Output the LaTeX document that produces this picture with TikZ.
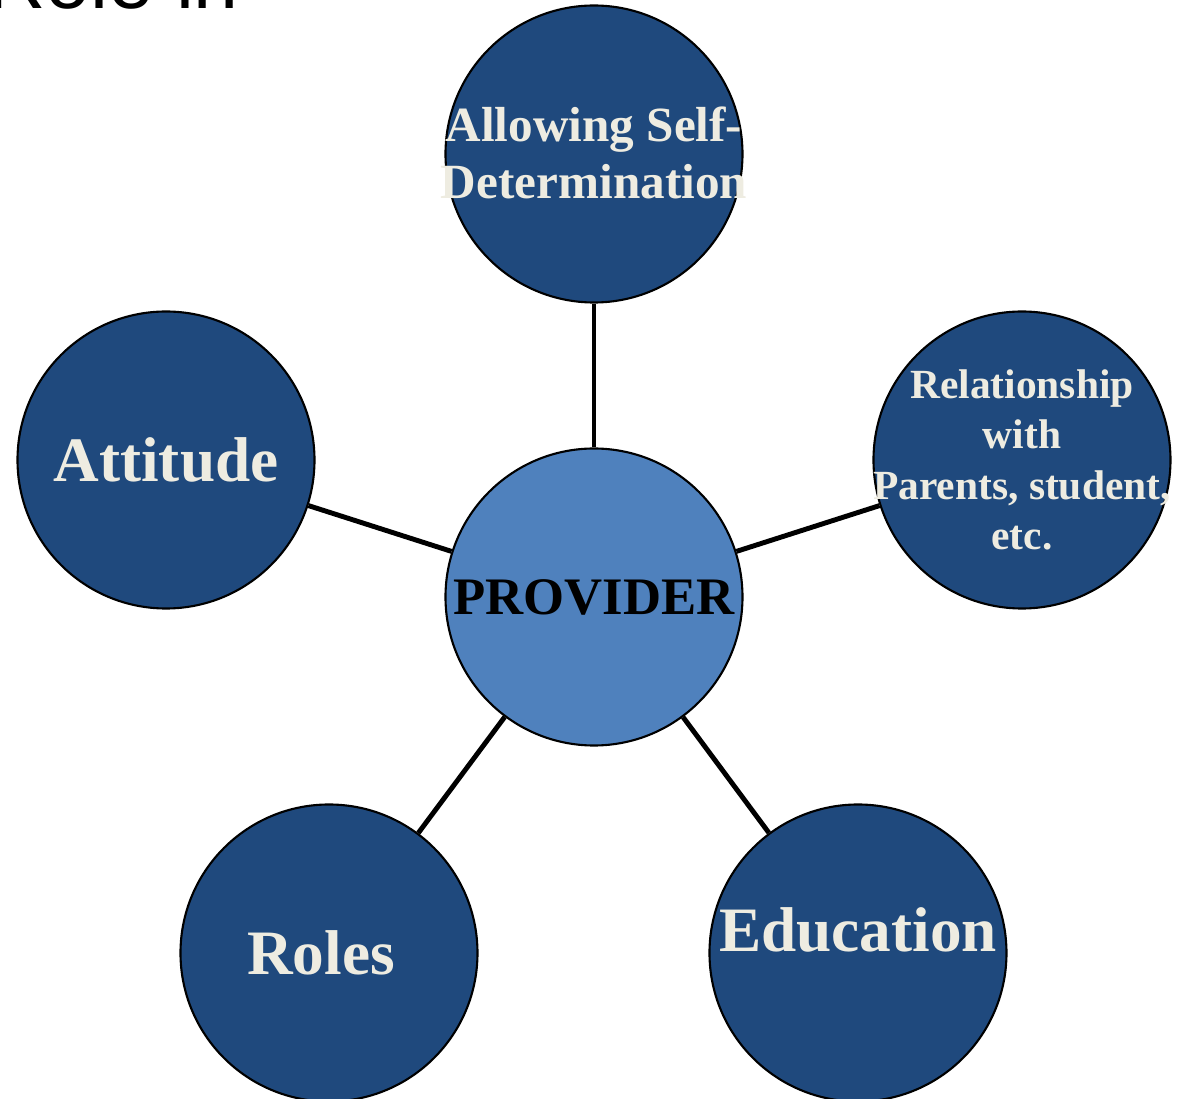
\documentclass[tikz,border=0pt]{standalone}
\usepackage{fontspec}
\setmainfont{Liberation Serif}
\setsansfont{Liberation Sans}
\definecolor{topicblue}{HTML}{1F497D}
\definecolor{hubblue}{HTML}{4F81BD}
\definecolor{paper}{HTML}{EEECE1}
\tikzset{
	topic/.style={circle, draw=black, line width=0.6pt, fill=topicblue, minimum size=2.97cm, inner sep=0pt},
	hub/.style={topic, fill=hubblue},
	word/.style={text=paper, font=\bfseries, align=center, inner sep=0pt},
	link/.style={line width=1.4pt}
}

\begin{document}
\begin{tikzpicture}
		%%%%% START %%%%%
		\useasboundingbox (0, 0) rectangle (11.88, 10.99);
		
		\node[anchor=base west, font=\sffamily\fontsize{23}{23}\selectfont] (title) at (-0.25, 10.90) {Role in};
		
		\node[hub, label={[word, text=black, font=\bfseries\fontsize{15}{15}\selectfont]center:PROVIDER}] (prov) at (5.94, 5.02) {};
		
		\node[topic, label={[word, yshift=0.01cm, font=\bfseries\fontsize{14}{16.2}\selectfont]center:Allowing Self-\\Determination}] (self) at (5.94, 9.45) {};
		\node[topic, label={[word, font=\bfseries\fontsize{18}{18}\selectfont]center:Attitude}] (att) at (1.66, 6.39) {};
		\node[topic, label={[word, font=\bfseries\fontsize{11.8}{14.3}\selectfont]center:Relationship\\with\\Parents, student,\\etc.}] (rel) at (10.22, 6.39) {};
		\node[topic, label={[word, xshift=-0.08cm, font=\bfseries\fontsize{18}{18}\selectfont]center:Roles}] (roles) at (3.29, 1.46) {};
		\node[topic, label={[word, yshift=0.23cm, font=\bfseries\fontsize{18}{18}\selectfont]center:Education}] (edu) at (8.58, 1.46) {};
		
		\draw[link] (prov) -- (self);
		\draw[link] (prov) -- (att);
		\draw[link] (prov) -- (rel);
		\draw[link] (prov) -- (roles);
		\draw[link] (prov) -- (edu);
		%%%%% END %%%%%
\end{tikzpicture}
\end{document}
